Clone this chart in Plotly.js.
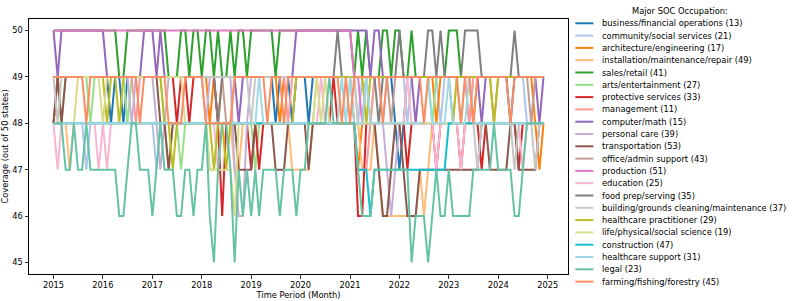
<!DOCTYPE html>
<html>
<head>
<meta charset="utf-8">
<script src="https://cdn.plot.ly/plotly-3.0.1.min.js"></script>
<style>html,body{margin:0;padding:0;background:#fff;}#chart{width:793px;height:301px;}</style>
</head>
<body>
<div id="chart"></div>
<script>
// ---- data (monthly, Jan 2015 .. Dec 2024), one row per year ----
const startYear = 2015, endYear = 2024;
const yearTicks = ["2015","2016","2017","2018","2019","2020","2021","2022","2023","2024","2025"];
const yTicks = [45,46,47,48,49,50];

const business = [
 49,49,49,49,49,49,49,49,49,49,49,49,
 49,49,48,49,49,48,49,49,49,49,49,49,
 49,49,49,49,49,49,49,49,49,49,49,49,
 49,49,49,49,49,49,49,49,49,49,49,49,
 49,49,49,49,49,49,48,49,49,49,48,49,
 49,49,48,49,49,49,49,49,49,49,49,49,
 49,49,49,49,49,49,49,49,49,49,49,48,
 47,48,49,49,49,49,49,49,49,49,49,49,
 49,49,49,49,49,49,49,49,49,49,49,49,
 49,49,49,48,49,49,49,49,49,49,49,49];
const community = [
 48,48,48,48,48,48,48,48,47,48,48,48,
 48,48,48,48,48,48,48,48,48,48,48,48,
 48,47,48,48,48,48,48,48,48,48,48,48,
 48,48,48,48,48,48,48,48,48,48,48,48,
 48,48,48,48,48,48,48,48,48,48,48,48,
 48,48,48,48,48,48,48,48,48,48,48,48,
 48,48,48,49,48,49,49,49,48,49,49,49,
 49,49,48,49,49,49,49,49,49,49,48,49,
 49,48,49,49,49,48,49,49,49,49,49,49,
 49,49,49,49,49,49,49,48,48,49,49,49];
const architecture = [
 49,49,49,49,49,49,49,49,49,49,49,49,
 49,49,49,49,49,49,49,49,49,49,49,49,
 49,49,49,49,49,49,49,49,49,49,49,49,
 49,49,48,49,48,49,49,49,49,49,49,49,
 49,49,49,49,49,49,49,48,49,49,49,49,
 49,49,49,49,49,49,49,49,49,49,49,49,
 49,48,47,48,49,49,49,49,49,49,49,49,
 49,49,49,49,49,49,49,49,49,48,49,49,
 49,49,49,49,49,49,48,49,49,49,49,49,
 49,49,49,49,49,49,49,49,49,48,47,48];
const installation = [
 48,48,48,48,47,48,48,48,48,48,48,48,
 48,48,48,48,48,48,48,48,48,48,48,48,
 48,48,48,48,48,48,48,48,48,48,48,48,
 48,48,48,48,48,48,48,48,47,47,48,48,
 48,48,48,48,48,48,48,48,48,48,47,47,
 47,47,47,48,48,48,48,48,48,48,48,48,
 48,48,48,47,47,47,48,47,46,46,46,46,
 46,46,46,46,46,47,46,47,48,48,48,48,
 48,48,48,48,48,48,48,48,48,48,48,48,
 48,48,48,48,48,48,48,48,48,48,48,48];
const sales = [
 50,50,50,50,50,50,50,50,50,50,50,50,
 50,50,50,50,49,49,50,50,50,50,50,50,
 50,50,50,50,49,49,49,50,50,49,50,50,
 49,50,50,49,50,49,49,50,49,50,50,49,
 50,50,50,50,50,50,49,50,50,50,50,50,
 50,50,50,50,50,50,50,50,50,50,50,50,
 50,49,50,49,50,49,49,49,50,50,49,50,
 50,49,49,50,49,49,49,49,49,49,49,49,
 50,50,50,49,49,49,49,49,49,49,49,49,
 49,49,49,49,49,49,49,49,49,49,49,49];
const arts = [
 49,49,48,49,49,49,49,49,49,48,49,49,
 49,49,49,49,49,49,48,49,49,49,49,49,
 49,49,49,48,47,48,48,47,48,48,48,48,
 48,48,47,47,48,48,48,48,48,48,48,48,
 48,47,48,48,48,48,48,48,48,48,48,48,
 48,48,48,48,49,49,49,49,49,49,49,49,
 49,49,49,49,49,48,49,49,49,49,49,49,
 49,49,49,49,49,49,49,49,48,49,49,49,
 49,49,49,48,49,49,49,49,49,49,49,49,
 49,49,49,49,49,49,49,49,49,49,49,49];
const protective = [
 48,49,49,49,49,49,49,49,49,49,49,49,
 49,49,49,49,49,49,49,49,49,49,49,49,
 49,49,49,49,49,49,48,49,49,48,49,49,
 49,49,49,49,48,46,48,48,48,48,48,48,
 47,48,47,48,48,48,48,48,48,48,48,48,
 48,48,48,48,48,48,48,48,49,48,48,48,
 48,48,46,46,48,48,48,48,48,48,48,48,
 48,48,47,48,48,48,48,48,48,47,48,48,
 48,48,48,47,48,48,48,48,47,48,48,48,
 48,48,48,48,48,47,48,48,48,48,48,48];
const management = [
 49,49,49,49,49,49,49,49,49,49,49,49,
 49,49,49,49,49,49,49,49,48,49,49,49,
 49,49,49,49,49,49,49,49,49,49,49,49,
 49,49,49,49,49,49,49,49,49,49,49,49,
 49,49,49,49,49,49,49,49,49,48,49,49,
 49,49,49,49,49,49,49,49,49,49,49,49,
 49,48,47,47,47,48,49,49,49,49,49,49,
 49,49,49,49,49,49,49,49,49,49,49,49,
 49,49,49,49,49,48,49,49,49,49,49,49,
 49,49,49,49,49,49,49,49,49,49,49,49];
const computer = [
 50,49,50,50,50,50,50,50,50,50,50,50,
 50,49,49,49,49,49,49,49,49,49,50,50,
 50,49,50,49,49,49,49,49,49,49,49,49,
 49,49,49,49,49,49,49,49,49,48,49,49,
 49,49,49,49,49,49,49,49,49,49,49,50,
 50,50,50,50,50,50,50,50,50,50,50,50,
 50,50,50,50,50,49,50,50,49,49,49,49,
 49,49,49,49,48,49,49,49,49,49,49,49,
 49,49,49,49,49,49,49,49,48,49,49,49,
 49,49,49,49,49,49,49,49,49,49,48,49];
const personalCare = [
 49,49,49,49,49,49,49,49,49,49,49,49,
 49,49,49,49,49,49,49,48,49,49,49,49,
 49,48,47,48,49,49,49,49,49,49,49,49,
 49,48,49,49,49,49,49,49,47,46,46,48,
 49,49,49,49,49,49,49,49,49,49,49,49,
 49,49,49,49,49,49,49,49,49,49,49,49,
 49,49,48,48,48,48,48,48,48,47,46,47,
 48,48,48,48,48,48,48,48,48,48,48,48,
 48,48,48,48,48,48,48,48,48,48,48,48,
 48,48,48,48,48,48,48,48,48,48,48,48];
const transportation = [
 48,49,48,49,49,49,49,49,49,49,49,49,
 49,49,49,49,49,49,49,49,49,49,49,49,
 49,49,48,48,47,48,48,48,48,48,48,48,
 48,48,48,48,48,48,48,48,48,47,47,47,
 47,48,48,48,48,48,47,47,47,48,48,48,
 48,48,47,48,48,48,48,48,48,48,48,48,
 48,48,48,48,48,48,48,47,46,46,47,48,
 48,47,46,46,46,47,47,47,47,47,47,47,
 47,47,47,47,47,47,47,47,48,48,47,47,
 47,47,47,48,48,47,47,47,47,47,48,48];
const office = [
 49,49,49,49,49,49,49,49,49,49,49,49,
 49,49,49,49,49,49,49,49,49,49,49,49,
 49,49,49,49,49,49,49,49,49,49,49,49,
 49,49,49,49,49,49,48,48,49,49,49,49,
 49,49,49,49,49,49,49,49,49,49,49,49,
 49,49,49,49,49,49,49,49,49,49,49,49,
 49,49,49,49,49,49,49,49,49,49,48,49,
 49,49,49,49,49,49,49,49,49,49,49,49,
 49,49,49,49,49,49,49,49,49,49,49,48,
 49,49,49,49,49,49,49,49,48,49,49,49];
const production = [
 50,50,50,50,50,50,50,50,50,50,50,50,
 50,50,50,50,50,50,50,50,50,50,50,50,
 50,50,50,50,50,50,50,50,50,50,50,50,
 50,50,50,50,50,50,50,50,50,50,50,50,
 50,50,50,50,50,50,50,50,50,50,50,50,
 50,50,50,50,50,50,50,50,50,50,50,50,
 50,49,49,48,49,49,49,49,49,49,49,49,
 49,49,49,49,49,49,49,49,49,49,49,49,
 49,49,49,49,49,49,49,49,49,49,49,49,
 49,49,49,49,49,49,49,49,49,49,49,49];
const education = [
 48,47,48,48,48,48,48,48,48,48,48,47,
 48,47,48,48,48,48,48,48,48,48,48,48,
 48,48,48,48,48,48,48,48,48,48,48,48,
 48,48,48,48,47,48,48,48,48,48,48,48,
 48,48,48,48,48,48,48,48,48,48,48,48,
 48,48,48,48,48,49,48,48,48,48,48,48,
 48,48,48,48,48,48,48,48,48,48,48,48,
 48,48,49,48,48,48,48,48,48,47,48,48,
 48,48,48,47,48,48,48,48,48,48,48,48,
 48,48,48,48,48,48,47,48,48,48,48,48];
const foodPrep = [
 49,49,49,49,49,49,49,49,49,49,49,49,
 49,49,49,49,49,49,49,49,49,49,49,49,
 49,49,49,49,49,49,49,49,49,49,49,49,
 49,49,49,49,48,49,49,49,49,49,49,49,
 49,49,49,49,49,49,49,49,49,49,49,49,
 49,49,49,49,49,49,49,49,49,50,49,49,
 49,49,49,49,49,49,49,48,49,49,49,49,
 50,49,49,49,49,49,49,50,50,49,50,49,
 49,49,49,49,50,50,50,50,49,49,49,49,
 49,49,49,49,50,49,49,49,49,49,49,49];
const building = [
 49,48,49,49,49,49,49,49,49,49,49,49,
 49,49,49,49,49,49,49,49,49,49,49,49,
 49,49,49,49,49,49,49,49,49,49,49,49,
 49,49,49,49,49,49,49,49,49,49,49,49,
 48,49,49,49,49,49,49,49,49,49,49,49,
 49,49,49,49,49,49,49,49,49,49,49,49,
 49,49,48,48,48,48,48,48,48,48,48,48,
 48,48,48,48,48,48,48,48,48,48,48,48,
 48,48,48,48,48,48,48,47,48,48,48,48,
 48,48,48,48,47,48,48,48,48,47,48,48];
const practitioner = [
 49,49,49,49,49,49,49,49,49,49,49,49,
 49,48,49,49,48,49,49,49,49,49,49,49,
 49,49,49,48,48,47,48,48,48,48,48,48,
 48,48,48,47,48,48,47,48,48,48,48,48,
 48,48,48,48,48,48,48,48,48,48,48,49,
 49,49,49,49,49,49,49,49,49,49,49,49,
 49,49,49,49,48,49,49,49,49,49,49,49,
 49,49,49,49,49,49,49,49,49,49,49,49,
 49,48,49,49,49,49,49,49,49,49,49,48,
 49,49,49,49,49,49,49,49,49,49,49,49];
const lifeScience = [
 48,48,48,48,48,48,49,49,49,49,49,49,
 48,49,49,49,49,49,49,49,49,49,49,49,
 49,49,49,49,49,49,49,49,48,48,48,48,
 48,48,47,47,47,47,47,47,46,48,48,48,
 48,48,48,48,48,48,48,48,48,48,48,48,
 48,48,48,48,49,48,49,48,48,48,48,48,
 48,48,48,48,48,48,48,48,48,48,48,48,
 48,48,48,48,48,48,48,48,48,48,48,48,
 48,48,48,48,48,48,48,48,48,48,48,48,
 48,48,48,48,48,48,48,48,48,48,48,48];
const construction = [
 48,48,48,48,48,48,48,48,48,48,48,48,
 48,48,48,48,48,48,48,48,48,48,48,48,
 48,48,48,48,48,48,48,48,48,48,48,48,
 48,48,48,48,48,48,48,48,48,48,48,48,
 48,48,48,48,48,48,48,48,48,48,48,48,
 48,48,48,48,48,48,48,48,48,48,48,48,
 48,48,47,47,47,46,47,47,47,47,47,47,
 47,47,47,47,47,47,47,47,47,47,47,47,
 48,48,48,48,48,48,48,48,48,48,48,48,
 48,48,48,48,48,48,48,48,48,48,48,48];
const healthSupport = [
 48,48,48,48,48,48,48,48,48,48,48,48,
 48,48,48,48,48,48,48,48,48,48,48,48,
 48,48,48,48,48,48,48,48,48,48,48,48,
 48,48,48,48,48,48,48,48,48,48,48,48,
 48,48,49,48,48,48,48,48,48,48,48,48,
 48,48,48,48,48,48,48,48,48,48,49,48,
 49,48,48,48,49,48,48,48,48,48,48,48,
 48,48,48,48,48,48,48,49,48,48,48,48,
 49,48,48,48,48,49,48,48,48,48,48,48,
 48,48,48,48,48,48,48,48,48,48,48,48];
const legal = [
 48,48,48,47,47,48,47,47,48,47,47,47,
 47,47,47,47,46,46,47,48,48,47,47,47,
 46,47,48,47,47,47,46,46,47,47,46,47,
 47,48,46,45,47,48,48,47,45,47,46,47,
 46,47,46,47,47,47,47,46,47,47,47,46,
 47,47,48,48,48,48,48,49,48,48,48,48,
 48,48,47,46,46,46,47,47,47,47,47,47,
 47,47,47,45,46,46,46,45,46,47,46,46,
 47,46,46,46,46,46,47,47,47,47,47,48,
 47,47,47,47,46,46,47,48,48,48,48,48];
const farming = [
 49,49,49,49,49,49,49,49,48,49,49,49,
 49,49,49,49,49,49,49,49,49,48,49,49,
 49,49,49,49,48,48,48,48,49,49,49,49,
 49,48,48,48,48,48,48,48,49,49,49,49,
 49,49,49,49,48,49,49,49,48,49,49,49,
 49,49,49,49,49,49,49,49,49,49,48,49,
 48,49,49,49,49,49,49,49,48,49,49,49,
 49,49,49,49,49,49,48,49,49,49,49,49,
 49,49,49,48,49,49,48,49,49,49,49,49,
 49,49,49,48,49,49,49,49,49,49,49,49];

const seriesNames = [
 "business/financial operations (13)","community/social services (21)","architecture/engineering (17)",
 "installation/maintenance/repair (49)","sales/retail (41)","arts/entertainment (27)","protective services (33)",
 "management (11)","computer/math (15)","personal care (39)","transportation (53)","office/admin support (43)",
 "production (51)","education (25)","food prep/serving (35)","building/grounds cleaning/maintenance (37)",
 "healthcare practitioner (29)","life/physical/social science (19)","construction (47)","healthcare support (31)",
 "legal (23)","farming/fishing/forestry (45)"];
const seriesValues = [business, community, architecture, installation, sales, arts, protective, management,
 computer, personalCare, transportation, office, production, education, foodPrep, building, practitioner,
 lifeScience, construction, healthSupport, legal, farming];
const seriesColors = ["#1f77b4","#aec7e8","#ff7f0e","#ffbb78","#2ca02c","#98df8a","#d62728","#ff9896",
 "#9467bd","#c5b0d5","#8c564b","#c49c94","#e377c2","#f7b6d2","#7f7f7f","#c7c7c7","#bcbd22","#dbdb8d",
 "#17becf","#9edae5","#66c2a5","#fc8d62"];

// month axis
const months = [];
for (let y = startYear; y <= endYear; y++) for (let m = 1; m <= 12; m++) months.push(y + "-" + String(m).padStart(2, "0") + "-01");

const FONT = "DejaVu Sans, Liberation Sans, sans-serif";
const FS = 8.3;

const traces = seriesValues.map((vals, i) => ({
  type: "scatter", mode: "lines", x: months, y: vals, name: seriesNames[i],
  line: {color: seriesColors[i], width: 2}, showlegend: false, hoverinfo: "skip"
}));

// hand-built legend (Plotly's native legend rows are too tall for 22 entries here)
const L = 29, R = 567.7, T = 19, B = 274, W = 793, H = 301;
const px2x = p => (p - L) / (R - L);
const px2y = p => (B - p) / (B - T);
const shapes = [], annotations = [];
annotations.push({xref: "paper", yref: "paper", x: px2x(680), y: px2y(11), text: "Major SOC Occupation:",
  showarrow: false, xanchor: "center", yanchor: "middle", font: {family: FONT, size: FS, color: "#000"}});
seriesNames.forEach((nm, i) => {
  const yy = 23.3 + i * 12.3;
  shapes.push({type: "line", xref: "paper", yref: "paper", x0: px2x(575), x1: px2x(593), y0: px2y(yy), y1: px2y(yy),
    line: {color: seriesColors[i], width: 2}});
  annotations.push({xref: "paper", yref: "paper", x: px2x(600), y: px2y(yy), text: nm, showarrow: false,
    xanchor: "left", yanchor: "middle", font: {family: FONT, size: FS, color: "#000"}});
});

const layout = {
  width: W, height: H,
  margin: {l: L, r: W - R, t: T, b: H - B, pad: 0},
  paper_bgcolor: "#fff", plot_bgcolor: "#fff",
  font: {family: FONT, size: FS, color: "#000"},
  showlegend: false,
  xaxis: {
    type: "date", range: ["2014-07-04", "2025-05-31"],
    tickvals: yearTicks.map(t => t + "-01-01"), ticktext: yearTicks,
    ticks: "outside", ticklen: 3.5, tickwidth: 0.8, tickcolor: "#000",
    showline: true, linecolor: "#000", linewidth: 1, mirror: true, showgrid: false, zeroline: false,
    tickfont: {family: FONT, size: FS, color: "#000"},
    title: {text: "Time Period (Month)", font: {family: FONT, size: FS, color: "#000"}, standoff: 1},
    automargin: false
  },
  yaxis: {
    range: [44.75, 50.25], tickvals: yTicks, ticktext: yTicks.map(String),
    ticks: "outside", ticklen: 3.5, tickwidth: 0.8, tickcolor: "#000",
    showline: true, linecolor: "#000", linewidth: 1, mirror: true, showgrid: false, zeroline: false,
    tickfont: {family: FONT, size: FS, color: "#000"},
    title: {text: "Coverage (out of 50 states)", font: {family: FONT, size: FS, color: "#000"}, standoff: 2},
    automargin: false
  },
  shapes: shapes, annotations: annotations
};

Plotly.newPlot("chart", traces, layout, {staticPlot: true, displayModeBar: false});
</script>
</body>
</html>
